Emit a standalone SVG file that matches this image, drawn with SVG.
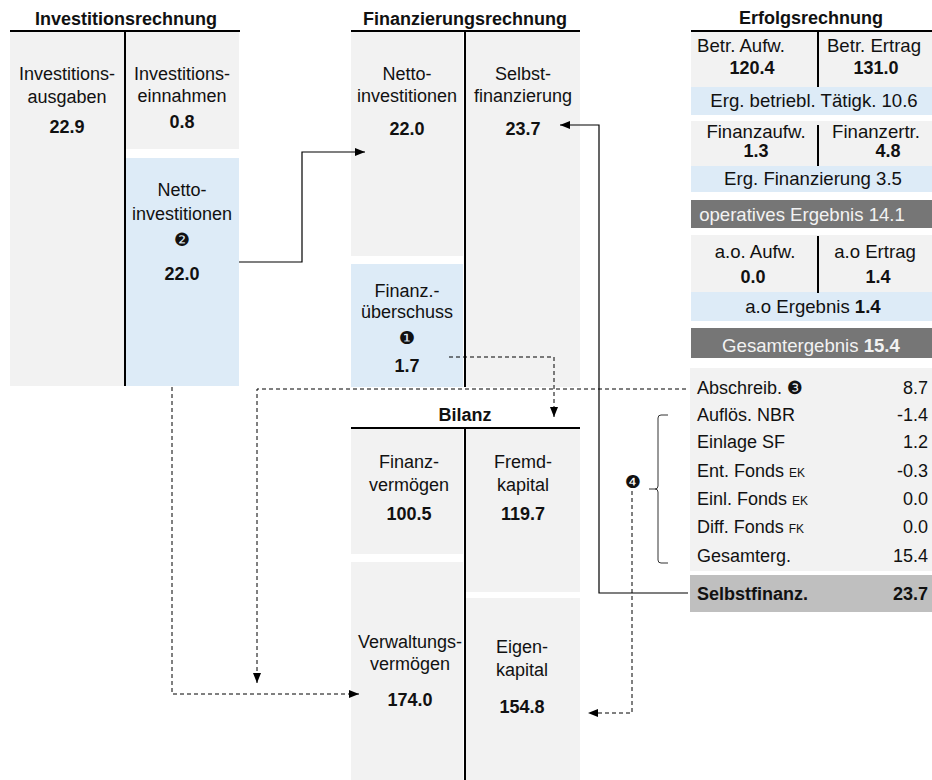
<svg xmlns="http://www.w3.org/2000/svg" width="932" height="780" viewBox="0 0 932 780">
<style>
text{font-family:"Liberation Sans",Arial,sans-serif;font-size:18px;fill:#111;}
.t{font-weight:bold;font-size:18px;text-anchor:middle;}
.c{text-anchor:middle;}
.b{font-weight:bold;}
.r{text-anchor:end;}
.e{font-size:18.6px;}
.dg{font-family:"DejaVu Sans",sans-serif;font-size:18px;}
.sm{font-size:12px;}
.lt{fill:#f2f2f2;}
.gray{fill:#f2f2f2;}
.blue{fill:#ddebf7;}
.dark{fill:#767676;}
.mid{fill:#bfbfbf;}
.ax{stroke:#000;stroke-width:2;fill:none;}
.sl{stroke:#000;stroke-width:1.2;fill:none;}
.ds{stroke:#000;stroke-width:1;fill:none;stroke-dasharray:4,3;}
</style>
<defs>
<marker id="ah" markerUnits="userSpaceOnUse" markerWidth="10" markerHeight="8" refX="10" refY="4" orient="auto">
<path d="M0,0 L10,4 L0,8 z" fill="#000"/>
</marker>
</defs>

<g id="investitionsrechnung">
<text class="t" x="126" y="25">Investitionsrechnung</text>
<rect class="gray" x="10" y="32" width="114" height="354"/>
<rect class="gray" x="126" y="32" width="113" height="117"/>
<line class="ax" x1="10" y1="31" x2="240" y2="31"/>
<line class="ax" x1="125" y1="31" x2="125" y2="386"/>
<text class="c" x="67" y="80">Investitions-</text>
<text class="c" x="67" y="103">ausgaben</text>
<text class="c b" x="67" y="133">22.9</text>
<text class="c" x="182" y="80">Investitions-</text>
<text class="c" x="182" y="102">einnahmen</text>
<text class="c b" x="182" y="128">0.8</text>
</g>

<g id="nettoinvestitionen-ir">
<rect class="blue" x="126" y="158" width="113" height="228"/>
<text class="c" x="182" y="196">Netto-</text>
<text class="c" x="182" y="220">investitionen</text>
<text class="c dg" x="182" y="246">❷</text>
<text class="c b" x="182" y="280">22.0</text>
</g>

<g id="finanzierungsrechnung">
<text class="t" x="465" y="25">Finanzierungsrechnung</text>
<rect class="gray" x="351" y="32" width="112" height="224"/>
<rect class="gray" x="466" y="32" width="114" height="355"/>
<text class="c" x="407" y="80">Netto-</text>
<text class="c" x="407" y="102">investitionen</text>
<text class="c b" x="407" y="135">22.0</text>
<text class="c" x="523" y="80">Selbst-</text>
<text class="c" x="523" y="102">finanzierung</text>
<text class="c b" x="523" y="135">23.7</text>
</g>

<g id="finanzueberschuss">
<rect class="blue" x="351" y="264" width="112" height="123"/>
<text class="c" x="407" y="297">Finanz.-</text>
<text class="c" x="407" y="318">überschuss</text>
<text class="c dg" x="407" y="344">❶</text>
<text class="c b" x="407" y="372">1.7</text>
<line class="ax" x1="351" y1="31" x2="580" y2="31"/>
<line class="ax" x1="465" y1="31" x2="465" y2="387"/>
</g>

<g id="bilanz">
<text class="t" x="465" y="421">Bilanz</text>
<rect class="gray" x="351" y="429" width="112" height="125"/>
<rect class="gray" x="351" y="562" width="112" height="218"/>
<rect class="gray" x="466" y="429" width="114" height="163"/>
<rect class="gray" x="466" y="598" width="114" height="182"/>
<line class="ax" x1="351" y1="428" x2="580" y2="428"/>
<line class="ax" x1="465" y1="428" x2="465" y2="780"/>
<text class="c" x="409" y="468">Finanz-</text>
<text class="c" x="409" y="491">vermögen</text>
<text class="c b" x="409" y="520">100.5</text>
<text class="c" x="523" y="468">Fremd-</text>
<text class="c" x="523" y="491">kapital</text>
<text class="c b" x="523" y="520">119.7</text>
<text class="c" x="410" y="648">Verwaltungs-</text>
<text class="c" x="410" y="670">vermögen</text>
<text class="c b" x="410" y="706">174.0</text>
<text class="c" x="522" y="653">Eigen-</text>
<text class="c" x="522" y="676">kapital</text>
<text class="c b" x="522" y="713">154.8</text>
</g>

<g id="erfolgsrechnung">
<text class="t" x="811" y="24">Erfolgsrechnung</text>
<rect class="gray" x="691" y="32" width="241" height="55"/>
<rect class="blue" x="691" y="87" width="241" height="28"/>
<line class="ax" x1="691" y1="31" x2="932" y2="31"/>
<line class="ax" x1="818" y1="31" x2="818" y2="87"/>
<text class="c e" x="741" y="52">Betr. Aufw.</text>
<text class="c b" x="752" y="74">120.4</text>
<text class="c e" x="874" y="52">Betr. Ertrag</text>
<text class="c b" x="876" y="74">131.0</text>
<text class="c e" x="814" y="107">Erg. betriebl. Tätigk. 10.6</text>

<rect class="gray" x="691" y="121" width="241" height="45"/>
<rect class="blue" x="691" y="166" width="241" height="26"/>
<line class="ax" x1="818" y1="125" x2="818" y2="166"/>
<text class="c e" x="756" y="138">Finanzaufw.</text>
<text class="c b" x="756" y="157">1.3</text>
<text class="c e" x="876" y="138">Finanzertr.</text>
<text class="c b" x="888" y="157">4.8</text>
<text class="c e" x="813" y="185">Erg. Finanzierung 3.5</text>

<rect class="dark" x="691" y="200" width="241" height="28"/>
<text class="c e lt" x="802" y="221">operatives Ergebnis 14.1</text>

<rect class="gray" x="691" y="235" width="241" height="57"/>
<rect class="blue" x="691" y="292" width="241" height="29"/>
<line class="ax" x1="818" y1="236" x2="818" y2="293"/>
<text class="c e" x="755" y="258">a.o. Aufw.</text>
<text class="c e" x="875" y="258">a.o Ertrag</text>
<text class="c b" x="753" y="283">0.0</text>
<text class="c b" x="878" y="283">1.4</text>
<text class="c e" x="813" y="313">a.o Ergebnis <tspan class="b">1.4</tspan></text>

<rect class="dark" x="691" y="328" width="241" height="30"/>
<text class="c e lt" x="811" y="352">Gesamtergebnis <tspan class="b">15.4</tspan></text>
</g>

<g id="selbstfinanzierung-liste">
<rect class="gray" x="690" y="368" width="242" height="203"/>
<text x="697" y="394">Abschreib. <tspan class="dg">❸</tspan></text>
<text class="r" x="928" y="394">8.7</text>
<text x="697" y="421">Auflös. NBR</text>
<text class="r" x="928" y="421">-1.4</text>
<text x="697" y="448">Einlage SF</text>
<text class="r" x="928" y="448">1.2</text>
<text x="697" y="477">Ent. Fonds <tspan class="sm">EK</tspan></text>
<text class="r" x="928" y="477">-0.3</text>
<text x="697" y="505">Einl. Fonds <tspan class="sm">EK</tspan></text>
<text class="r" x="928" y="505">0.0</text>
<text x="697" y="533">Diff. Fonds <tspan class="sm">FK</tspan></text>
<text class="r" x="928" y="533">0.0</text>
<text x="697" y="562">Gesamterg.</text>
<text class="r" x="928" y="562">15.4</text>
<rect class="mid" x="690" y="575" width="242" height="37"/>
<text class="b" x="697" y="600">Selbstfinanz.</text>
<text class="b r" x="928" y="600">23.7</text>
</g>

<g id="marker4">
<path d="M668,415 H661 Q658,415 658,418 V486 Q658,489 655,489 H649 M655,489 Q658,489 658,492 V560 Q658,563 661,563 H668" stroke="#333" stroke-width="1" fill="none"/>
<text class="c dg" x="633" y="488">❹</text>
</g>

<g id="connectors">
<path class="sl" d="M239,262 H302 V152 H365" marker-end="url(#ah)"/>
<path class="sl" d="M688,593 H599 V125 H560" marker-end="url(#ah)"/>
<path class="ds" d="M449,357 H554 V417" marker-end="url(#ah)"/>
<path class="ds" d="M686,389 H257 V683" marker-end="url(#ah)"/>
<path class="ds" d="M172,387 V694 H359" marker-end="url(#ah)"/>
<path class="ds" d="M632,491 V713 H588" marker-end="url(#ah)"/>
</g>
</svg>
